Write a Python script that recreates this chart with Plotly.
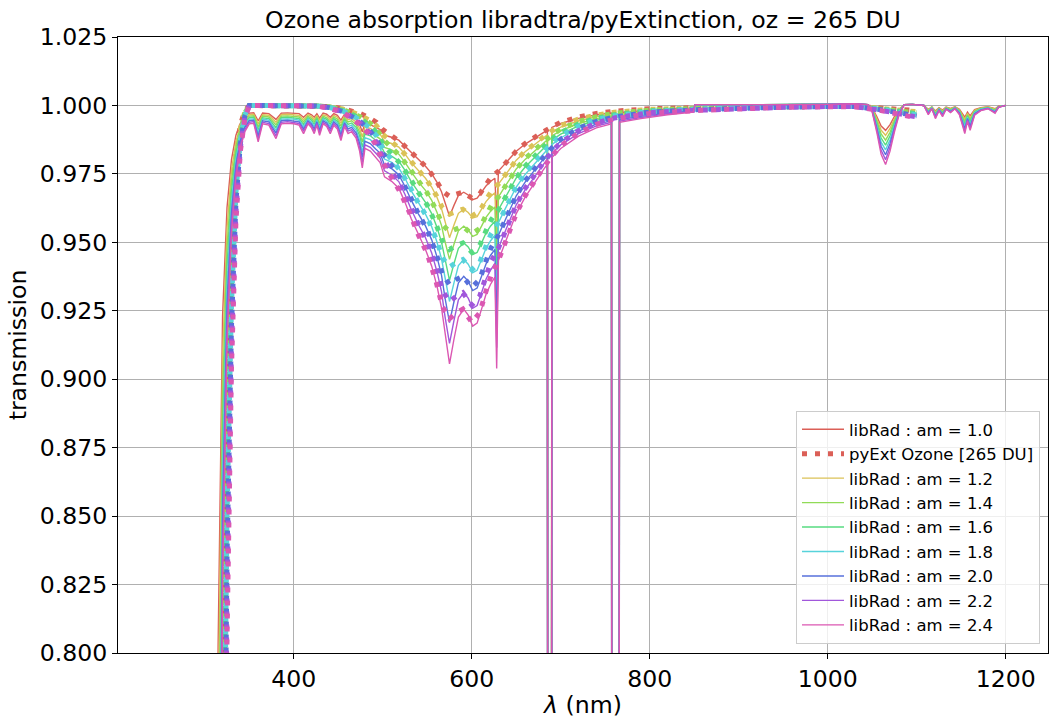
import plotly.graph_objects as go

# ---------------- data ----------------
airmass_labels = ["1.0", "1.2", "1.4", "1.6", "1.8", "2.0", "2.2", "2.4"]
series_colors = ["#db5f57", "#dbc257", "#91db57", "#57db80",
                 "#57d3db", "#5770db", "#a157db", "#db57b2"]

# libRadtran wavelength grid (nm)
wl_lib = [250, 310, 315, 320, 325, 330, 335, 340, 345, 350,
          355, 360, 365, 372, 380, 386, 393, 400, 406, 411,
          416, 420, 423, 426, 429, 433, 437, 441, 445, 449,
          453, 457, 461, 465, 470, 474, 477, 480, 486, 492,
          497, 502, 510, 518, 525, 532, 540, 548, 555, 561,
          566, 570, 575, 580, 585, 591, 596, 601, 606, 611,
          616, 621, 626, 628, 630, 636, 643, 650, 660, 670,
          680, 685, 686, 689, 690, 700, 720, 740, 757, 758,
          765, 766, 790, 820, 849, 851, 900, 950, 1000, 1030,
          1045, 1050, 1055, 1060, 1065, 1070, 1075, 1080, 1086, 1095,
          1108, 1113, 1117, 1121, 1125, 1129, 1133, 1138, 1143, 1148,
          1154, 1157, 1160, 1165, 1172, 1180, 1188, 1192, 1200]

librad_am10 = [0.0, 0.6065, 0.8025, 0.9231, 0.9627, 0.9802, 0.9891, 0.9935, 0.9960, 0.9972,
               0.9973, 0.9944, 0.9972, 0.9970, 0.9949, 0.9972, 0.9973, 0.9972, 0.9970, 0.9957,
               0.9972, 0.9966, 0.9957, 0.9970, 0.9954, 0.9972, 0.9968, 0.9957, 0.9970, 0.9964,
               0.9946, 0.9968, 0.9957, 0.9960, 0.9950, 0.9930, 0.9904, 0.9934, 0.9930, 0.9920,
               0.9912, 0.9891, 0.9884, 0.9873, 0.9851, 0.9826, 0.9800, 0.9778, 0.9751, 0.9719,
               0.9685, 0.9642, 0.9595, 0.9635, 0.9671, 0.9683, 0.9673, 0.9656, 0.9661, 0.9683,
               0.9706, 0.9722, 0.9734, 0.9588, 0.9760, 0.9782, 0.9807, 0.9833, 0.9859, 0.9881,
               0.9900, 0.9910, 0.42, 0.42, 0.9920, 0.9934, 0.9953, 0.9966, 0.9972, 0.30,
               0.30, 0.9974, 0.9980, 0.9986, 0.9990, 1.0003, 1.0002, 1.0003, 1.0004, 1.0006,
               1.0003, 0.9990, 0.9960, 0.9925, 0.9909, 0.9930, 0.9960, 0.9985, 1.0003, 1.0004,
               1.0000, 0.9986, 0.9995, 0.9980, 0.9992, 0.9983, 0.9994, 0.9989, 0.9995, 0.9986,
               0.9957, 0.9976, 0.9962, 0.9985, 0.9992, 0.9995, 0.9988, 0.9997, 1.0000]

librad_am12 = [0.0, 0.5488, 0.7680, 0.9085, 0.9554, 0.9763, 0.9869, 0.9922, 0.9952, 0.9966,
               0.9968, 0.9933, 0.9966, 0.9964, 0.9939, 0.9966, 0.9968, 0.9966, 0.9964, 0.9948,
               0.9966, 0.9959, 0.9948, 0.9964, 0.9945, 0.9966, 0.9962, 0.9948, 0.9964, 0.9957,
               0.9935, 0.9962, 0.9948, 0.9952, 0.9940, 0.9916, 0.9885, 0.9921, 0.9916, 0.9904,
               0.9895, 0.9869, 0.9861, 0.9848, 0.9822, 0.9791, 0.9761, 0.9734, 0.9702, 0.9664,
               0.9623, 0.9571, 0.9517, 0.9563, 0.9606, 0.9621, 0.9609, 0.9589, 0.9594, 0.9621,
               0.9649, 0.9667, 0.9681, 0.9507, 0.9713, 0.9739, 0.9769, 0.9800, 0.9831, 0.9857,
               0.9881, 0.9893, 0.35, 0.35, 0.9904, 0.9921, 0.9944, 0.9959, 0.9966, 0.24,
               0.24, 0.9969, 0.9976, 0.9983, 0.9988, 1.0003, 1.0002, 1.0003, 1.0004, 1.0006,
               1.0003, 0.9988, 0.9952, 0.9910, 0.9891, 0.9916, 0.9952, 0.9982, 1.0003, 1.0004,
               1.0000, 0.9983, 0.9994, 0.9976, 0.9990, 0.9980, 0.9993, 0.9987, 0.9994, 0.9983,
               0.9948, 0.9971, 0.9954, 0.9982, 0.9990, 0.9994, 0.9986, 0.9996, 1.0000]

librad_am14 = [0.0, 0.4966, 0.7349, 0.8940, 0.9482, 0.9724, 0.9847, 0.9909, 0.9944, 0.9961,
               0.9962, 0.9922, 0.9961, 0.9958, 0.9929, 0.9961, 0.9962, 0.9961, 0.9958, 0.9940,
               0.9961, 0.9952, 0.9940, 0.9958, 0.9936, 0.9961, 0.9955, 0.9940, 0.9958, 0.9950,
               0.9925, 0.9955, 0.9940, 0.9944, 0.9930, 0.9902, 0.9867, 0.9908, 0.9902, 0.9889,
               0.9878, 0.9847, 0.9838, 0.9822, 0.9792, 0.9757, 0.9721, 0.9690, 0.9653, 0.9609,
               0.9562, 0.9502, 0.9438, 0.9493, 0.9542, 0.9559, 0.9546, 0.9522, 0.9529, 0.9559,
               0.9591, 0.9613, 0.9629, 0.9428, 0.9666, 0.9697, 0.9731, 0.9768, 0.9803, 0.9833,
               0.9861, 0.9875, 0.29, 0.29, 0.9889, 0.9908, 0.9934, 0.9952, 0.9961, 0.19,
               0.19, 0.9964, 0.9972, 0.9980, 0.9986, 1.0003, 1.0002, 1.0003, 1.0004, 1.0006,
               1.0003, 0.9986, 0.9944, 0.9896, 0.9873, 0.9902, 0.9944, 0.9979, 1.0003, 1.0004,
               1.0000, 0.9980, 0.9993, 0.9972, 0.9989, 0.9976, 0.9992, 0.9985, 0.9993, 0.9980,
               0.9940, 0.9966, 0.9947, 0.9979, 0.9989, 0.9993, 0.9983, 0.9996, 1.0000]

librad_am16 = [0.0, 0.4493, 0.7033, 0.8799, 0.9410, 0.9685, 0.9826, 0.9897, 0.9936, 0.9955,
               0.9957, 0.9911, 0.9955, 0.9952, 0.9919, 0.9955, 0.9957, 0.9955, 0.9952, 0.9931,
               0.9955, 0.9946, 0.9931, 0.9952, 0.9927, 0.9955, 0.9949, 0.9931, 0.9952, 0.9942,
               0.9914, 0.9949, 0.9931, 0.9936, 0.9920, 0.9889, 0.9848, 0.9895, 0.9889, 0.9873,
               0.9860, 0.9826, 0.9815, 0.9797, 0.9763, 0.9722, 0.9682, 0.9646, 0.9605, 0.9554,
               0.9501, 0.9433, 0.9361, 0.9422, 0.9478, 0.9498, 0.9483, 0.9455, 0.9463, 0.9498,
               0.9534, 0.9559, 0.9577, 0.9349, 0.9619, 0.9654, 0.9693, 0.9735, 0.9775, 0.9810,
               0.9841, 0.9857, 0.24, 0.24, 0.9873, 0.9895, 0.9925, 0.9946, 0.9955, 0.15,
               0.15, 0.9958, 0.9968, 0.9978, 0.9984, 1.0003, 1.0002, 1.0003, 1.0004, 1.0006,
               1.0003, 0.9984, 0.9936, 0.9881, 0.9855, 0.9889, 0.9936, 0.9976, 1.0003, 1.0004,
               1.0000, 0.9978, 0.9992, 0.9968, 0.9987, 0.9973, 0.9990, 0.9982, 0.9992, 0.9978,
               0.9931, 0.9962, 0.9939, 0.9976, 0.9987, 0.9992, 0.9981, 0.9995, 1.0000]

librad_am18 = [0.0, 0.4066, 0.6730, 0.8659, 0.9339, 0.9646, 0.9804, 0.9884, 0.9928, 0.9950,
               0.9951, 0.9900, 0.9950, 0.9946, 0.9909, 0.9950, 0.9951, 0.9950, 0.9946, 0.9923,
               0.9950, 0.9939, 0.9923, 0.9946, 0.9918, 0.9950, 0.9942, 0.9923, 0.9946, 0.9935,
               0.9903, 0.9942, 0.9923, 0.9928, 0.9910, 0.9875, 0.9829, 0.9882, 0.9875, 0.9857,
               0.9843, 0.9804, 0.9792, 0.9772, 0.9734, 0.9688, 0.9643, 0.9603, 0.9557, 0.9500,
               0.9440, 0.9364, 0.9284, 0.9352, 0.9415, 0.9437, 0.9420, 0.9389, 0.9398, 0.9437,
               0.9478, 0.9505, 0.9526, 0.9270, 0.9572, 0.9612, 0.9655, 0.9702, 0.9748, 0.9786,
               0.9822, 0.9839, 0.20, 0.20, 0.9857, 0.9882, 0.9916, 0.9939, 0.9950, 0.12,
               0.12, 0.9953, 0.9964, 0.9975, 0.9982, 1.0003, 1.0002, 1.0003, 1.0004, 1.0006,
               1.0003, 0.9982, 0.9928, 0.9866, 0.9838, 0.9875, 0.9928, 0.9973, 1.0003, 1.0004,
               1.0000, 0.9975, 0.9991, 0.9964, 0.9986, 0.9969, 0.9989, 0.9980, 0.9991, 0.9975,
               0.9923, 0.9957, 0.9932, 0.9973, 0.9986, 0.9991, 0.9978, 0.9995, 1.0000]

librad_am20 = [0.0, 0.3679, 0.6440, 0.8521, 0.9268, 0.9608, 0.9782, 0.9871, 0.9920, 0.9944,
               0.9946, 0.9889, 0.9944, 0.9940, 0.9899, 0.9944, 0.9946, 0.9944, 0.9940, 0.9914,
               0.9944, 0.9932, 0.9914, 0.9940, 0.9909, 0.9944, 0.9936, 0.9914, 0.9940, 0.9928,
               0.9893, 0.9936, 0.9914, 0.9920, 0.9900, 0.9861, 0.9810, 0.9869, 0.9861, 0.9841,
               0.9826, 0.9782, 0.9769, 0.9747, 0.9704, 0.9654, 0.9604, 0.9560, 0.9509, 0.9446,
               0.9380, 0.9296, 0.9207, 0.9283, 0.9352, 0.9376, 0.9358, 0.9324, 0.9333, 0.9376,
               0.9421, 0.9452, 0.9474, 0.9192, 0.9526, 0.9570, 0.9618, 0.9670, 0.9720, 0.9763,
               0.9802, 0.9822, 0.17, 0.17, 0.9841, 0.9869, 0.9906, 0.9932, 0.9944, 0.09,
               0.09, 0.9948, 0.9960, 0.9972, 0.9980, 1.0003, 1.0002, 1.0003, 1.0004, 1.0006,
               1.0003, 0.9980, 0.9920, 0.9851, 0.9820, 0.9861, 0.9920, 0.9970, 1.0003, 1.0004,
               1.0000, 0.9972, 0.9990, 0.9960, 0.9984, 0.9966, 0.9988, 0.9978, 0.9990, 0.9972,
               0.9914, 0.9952, 0.9924, 0.9970, 0.9984, 0.9990, 0.9976, 0.9994, 1.0000]

librad_am22 = [0.0, 0.3329, 0.6163, 0.8386, 0.9198, 0.9570, 0.9761, 0.9858, 0.9912, 0.9938,
               0.9941, 0.9878, 0.9938, 0.9934, 0.9889, 0.9938, 0.9941, 0.9938, 0.9934, 0.9906,
               0.9938, 0.9925, 0.9906, 0.9934, 0.9900, 0.9938, 0.9930, 0.9906, 0.9934, 0.9921,
               0.9882, 0.9930, 0.9906, 0.9912, 0.9891, 0.9847, 0.9791, 0.9856, 0.9847, 0.9826,
               0.9808, 0.9761, 0.9746, 0.9722, 0.9675, 0.9620, 0.9565, 0.9517, 0.9461, 0.9392,
               0.9320, 0.9228, 0.9131, 0.9214, 0.9290, 0.9316, 0.9296, 0.9259, 0.9269, 0.9316,
               0.9365, 0.9398, 0.9423, 0.9115, 0.9479, 0.9528, 0.9580, 0.9637, 0.9692, 0.9739,
               0.9782, 0.9804, 0.14, 0.14, 0.9826, 0.9856, 0.9897, 0.9925, 0.9938, 0.07,
               0.07, 0.9943, 0.9956, 0.9969, 0.9978, 1.0003, 1.0002, 1.0003, 1.0004, 1.0006,
               1.0003, 0.9978, 0.9912, 0.9836, 0.9802, 0.9847, 0.9912, 0.9967, 1.0003, 1.0004,
               1.0000, 0.9969, 0.9989, 0.9956, 0.9982, 0.9963, 0.9987, 0.9976, 0.9989, 0.9969,
               0.9906, 0.9947, 0.9917, 0.9967, 0.9982, 0.9989, 0.9974, 0.9993, 1.0000]

librad_am24 = [0.0, 0.3012, 0.5898, 0.8253, 0.9128, 0.9531, 0.9739, 0.9845, 0.9904, 0.9933,
               0.9935, 0.9867, 0.9933, 0.9928, 0.9879, 0.9933, 0.9935, 0.9933, 0.9928, 0.9897,
               0.9933, 0.9918, 0.9897, 0.9928, 0.9891, 0.9933, 0.9923, 0.9897, 0.9928, 0.9914,
               0.9872, 0.9923, 0.9897, 0.9904, 0.9881, 0.9833, 0.9772, 0.9843, 0.9833, 0.9810,
               0.9791, 0.9739, 0.9723, 0.9698, 0.9646, 0.9586, 0.9527, 0.9474, 0.9413, 0.9339,
               0.9261, 0.9161, 0.9056, 0.9146, 0.9227, 0.9256, 0.9234, 0.9194, 0.9205, 0.9256,
               0.9310, 0.9346, 0.9373, 0.9039, 0.9434, 0.9486, 0.9543, 0.9605, 0.9665, 0.9716,
               0.9763, 0.9786, 0.12, 0.12, 0.9810, 0.9843, 0.9888, 0.9918, 0.9933, 0.06,
               0.06, 0.9938, 0.9952, 0.9966, 0.9976, 1.0003, 1.0002, 1.0003, 1.0004, 1.0006,
               1.0003, 0.9976, 0.9904, 0.9822, 0.9784, 0.9833, 0.9904, 0.9964, 1.0003, 1.0004,
               1.0000, 0.9966, 0.9988, 0.9952, 0.9981, 0.9959, 0.9986, 0.9974, 0.9988, 0.9966,
               0.9897, 0.9942, 0.9909, 0.9964, 0.9981, 0.9988, 0.9971, 0.9993, 1.0000]

# pyExtinction wavelength grid (nm)
wl_pyext = [300, 310, 315, 320, 325, 330, 335, 340, 345, 350,
            400, 425, 440, 455, 465, 475, 485, 493, 500, 510,
            520, 530, 540, 550, 560, 567, 575, 583, 590, 600,
            609, 616, 622, 630, 640, 650, 660, 670, 680, 690,
            700, 720, 740, 760, 780, 800, 850, 900, 950, 1000,
            1030, 1060, 1080, 1100]

pyext_am10 = [0.0498, 0.3679, 0.6376, 0.8187, 0.9139, 0.9589, 0.9822, 0.9930, 0.9980, 1.0,
              1.0, 0.9999, 0.9996, 0.9989, 0.9980, 0.9970, 0.9955, 0.9938, 0.9912, 0.9889,
              0.9866, 0.9835, 0.9800, 0.9771, 0.9726, 0.9687, 0.9668, 0.9677, 0.9683, 0.9662,
              0.9677, 0.9711, 0.9738, 0.9760, 0.9797, 0.9833, 0.9861, 0.9884, 0.9903, 0.9922,
              0.9938, 0.9958, 0.9971, 0.9979, 0.9984, 0.9988, 0.9992, 0.9995, 0.9997, 0.9998,
              0.9998, 0.9992, 0.9986, 0.9981]

pyext_am12 = [0.0273, 0.3012, 0.5827, 0.7866, 0.8976, 0.9508, 0.9786, 0.9916, 0.9976, 1.0,
              1.0, 0.9999, 0.9995, 0.9987, 0.9976, 0.9964, 0.9946, 0.9926, 0.9895, 0.9866,
              0.9839, 0.9803, 0.9761, 0.9725, 0.9672, 0.9626, 0.9603, 0.9614, 0.9621, 0.9596,
              0.9614, 0.9655, 0.9686, 0.9713, 0.9757, 0.9800, 0.9833, 0.9861, 0.9884, 0.9907,
              0.9926, 0.9950, 0.9965, 0.9975, 0.9981, 0.9986, 0.9990, 0.9994, 0.9996, 0.9998,
              0.9998, 0.9990, 0.9983, 0.9977]

pyext_am14 = [0.0150, 0.2466, 0.5326, 0.7558, 0.8816, 0.9429, 0.9751, 0.9902, 0.9972, 1.0,
              1.0, 0.9999, 0.9994, 0.9985, 0.9972, 0.9958, 0.9937, 0.9914, 0.9878, 0.9844,
              0.9813, 0.9770, 0.9721, 0.9680, 0.9618, 0.9565, 0.9538, 0.9551, 0.9559, 0.9530,
              0.9551, 0.9598, 0.9634, 0.9666, 0.9717, 0.9768, 0.9806, 0.9838, 0.9865, 0.9891,
              0.9914, 0.9941, 0.9959, 0.9971, 0.9978, 0.9983, 0.9989, 0.9993, 0.9996, 0.9997,
              0.9997, 0.9989, 0.9980, 0.9973]

pyext_am16 = [0.0082, 0.2019, 0.4868, 0.7261, 0.8659, 0.9350, 0.9716, 0.9889, 0.9968, 1.0,
              1.0, 0.9998, 0.9994, 0.9982, 0.9968, 0.9952, 0.9928, 0.9901, 0.9860, 0.9822,
              0.9786, 0.9738, 0.9682, 0.9636, 0.9565, 0.9504, 0.9474, 0.9489, 0.9498, 0.9464,
              0.9489, 0.9542, 0.9583, 0.9619, 0.9677, 0.9735, 0.9778, 0.9815, 0.9846, 0.9876,
              0.9901, 0.9933, 0.9954, 0.9966, 0.9974, 0.9981, 0.9987, 0.9992, 0.9995, 0.9997,
              0.9997, 0.9987, 0.9978, 0.9970]

pyext_am18 = [0.0045, 0.1653, 0.4449, 0.6977, 0.8504, 0.9272, 0.9681, 0.9875, 0.9964, 1.0,
              1.0, 0.9998, 0.9993, 0.9980, 0.9964, 0.9946, 0.9919, 0.9889, 0.9843, 0.9800,
              0.9760, 0.9706, 0.9643, 0.9591, 0.9512, 0.9444, 0.9410, 0.9427, 0.9437, 0.9400,
              0.9427, 0.9486, 0.9533, 0.9572, 0.9638, 0.9702, 0.9751, 0.9792, 0.9827, 0.9861,
              0.9889, 0.9925, 0.9948, 0.9962, 0.9971, 0.9978, 0.9986, 0.9991, 0.9995, 0.9996,
              0.9996, 0.9986, 0.9975, 0.9966]

pyext_am20 = [0.0025, 0.1353, 0.4066, 0.6703, 0.8353, 0.9194, 0.9646, 0.9861, 0.9960, 1.0,
              1.0, 0.9998, 0.9992, 0.9978, 0.9960, 0.9940, 0.9910, 0.9877, 0.9826, 0.9778,
              0.9734, 0.9673, 0.9604, 0.9547, 0.9459, 0.9384, 0.9346, 0.9365, 0.9376, 0.9335,
              0.9365, 0.9431, 0.9482, 0.9526, 0.9598, 0.9670, 0.9724, 0.9769, 0.9808, 0.9845,
              0.9877, 0.9916, 0.9942, 0.9958, 0.9968, 0.9976, 0.9984, 0.9990, 0.9994, 0.9996,
              0.9996, 0.9984, 0.9972, 0.9962]

pyext_am22 = [0.0014, 0.1108, 0.3716, 0.6440, 0.8204, 0.9117, 0.9612, 0.9847, 0.9956, 1.0,
              1.0, 0.9998, 0.9991, 0.9976, 0.9956, 0.9934, 0.9901, 0.9865, 0.9808, 0.9757,
              0.9707, 0.9641, 0.9565, 0.9502, 0.9407, 0.9324, 0.9283, 0.9304, 0.9316, 0.9271,
              0.9304, 0.9376, 0.9432, 0.9479, 0.9559, 0.9637, 0.9697, 0.9746, 0.9789, 0.9830,
              0.9865, 0.9908, 0.9936, 0.9954, 0.9965, 0.9974, 0.9982, 0.9989, 0.9993, 0.9996,
              0.9996, 0.9982, 0.9969, 0.9958]

pyext_am24 = [0.0007, 0.0907, 0.3396, 0.6188, 0.8057, 0.9041, 0.9577, 0.9833, 0.9952, 1.0,
              1.0, 0.9998, 0.9990, 0.9974, 0.9952, 0.9928, 0.9893, 0.9852, 0.9791, 0.9735,
              0.9681, 0.9609, 0.9527, 0.9458, 0.9355, 0.9265, 0.9221, 0.9243, 0.9256, 0.9208,
              0.9243, 0.9321, 0.9382, 0.9434, 0.9520, 0.9605, 0.9670, 0.9723, 0.9770, 0.9815,
              0.9852, 0.9900, 0.9931, 0.9950, 0.9962, 0.9971, 0.9981, 0.9988, 0.9993, 0.9995,
              0.9995, 0.9981, 0.9966, 0.9954]

x_tickvals = [400, 600, 800, 1000, 1200]
y_tickvals = [0.800, 0.825, 0.850, 0.875, 0.900, 0.925, 0.950, 0.975, 1.000, 1.025]

# ---------------- figure ----------------
librad_series = [librad_am10, librad_am12, librad_am14, librad_am16,
                 librad_am18, librad_am20, librad_am22, librad_am24]
pyext_series = [pyext_am10, pyext_am12, pyext_am14, pyext_am16,
                pyext_am18, pyext_am20, pyext_am22, pyext_am24]

for s in librad_series:
    assert len(s) == len(wl_lib), len(s)
for s in pyext_series:
    assert len(s) == len(wl_pyext), len(s)

FONT = "DejaVu Sans, Verdana, sans-serif"

fig = go.Figure()
for i, (am, col) in enumerate(zip(airmass_labels, series_colors)):
    fig.add_trace(go.Scatter(
        x=wl_lib, y=librad_series[i], mode="lines",
        line=dict(color=col, width=1.4),
        name=f"libRad : am = {am}", legendgroup=f"g{i}a",
    ))
    fig.add_trace(go.Scatter(
        x=wl_pyext, y=pyext_series[i], mode="lines",
        line=dict(color=col, width=5, dash="5px,8px"),
        name="pyExt Ozone [265 DU]",
        showlegend=(i == 0),
        legendgroup=("g0b" if i == 0 else f"g{i}a"),
    ))

axis_common = dict(
    showline=True, mirror=True, linecolor="black", linewidth=1,
    ticks="outside", ticklen=5, tickwidth=1, tickcolor="black",
    showgrid=True, gridcolor="#b0b0b0", gridwidth=1, zeroline=False,
    tickfont=dict(family=FONT, size=23.6, color="black"),
)

fig.update_xaxes(
    range=[202.5, 1247.5], tickmode="array", tickvals=x_tickvals,
    ticktext=[str(v) for v in x_tickvals],
    title=dict(text="<i>λ</i> (nm)", font=dict(family=FONT, size=23.6, color="black"),
               standoff=4),
    **axis_common,
)
fig.update_yaxes(
    range=[0.8, 1.025], tickmode="array", tickvals=y_tickvals,
    ticktext=[f"{v:.3f}" for v in y_tickvals],
    title=dict(text="transmission", font=dict(family=FONT, size=23.6, color="black"),
               standoff=6),
    **axis_common,
)

fig.update_layout(
    width=1058, height=728,
    margin=dict(l=118, r=10, t=37, b=75),
    paper_bgcolor="white", plot_bgcolor="white",
    font=dict(family=FONT, color="black"),
    title=dict(text="Ozone absorption libradtra/pyExtinction, oz = 265 DU",
               x=0.5, xref="paper", xanchor="center",
               y=1 - 20 / 728, yref="container", yanchor="middle",
               font=dict(family=FONT, size=23.6, color="black")),
    showlegend=True,
    legend=dict(
        x=1 - 8 / 930, xanchor="right", y=9 / 616, yanchor="bottom",
        bgcolor="rgba(255,255,255,0.8)", bordercolor="#cccccc", borderwidth=1,
        font=dict(family=FONT, size=16.5, color="black"),
        tracegroupgap=0, itemwidth=42,
    ),
)

fig.write_html("out.html")
